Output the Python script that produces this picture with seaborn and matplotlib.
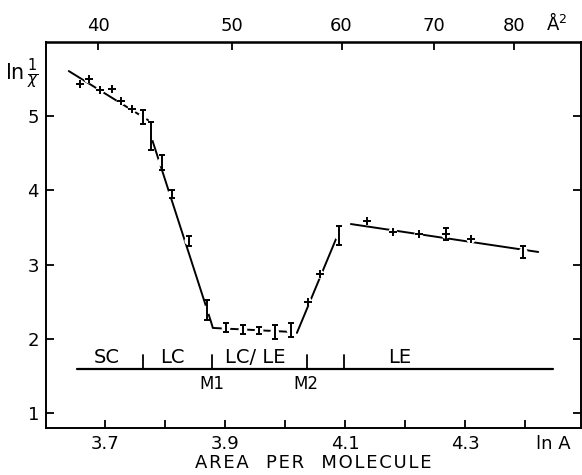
import numpy as np
import pandas as pd
import matplotlib
matplotlib.use('Agg')
import matplotlib.pyplot as plt
import matplotlib.patheffects as pe
import seaborn as sns

#%% data (x = ln A, y = ln 1/chi)
# points drawn as error bars
x_bar = [3.763, 3.777, 3.795, 3.812, 3.840, 3.870, 3.902, 3.930, 3.957, 3.983, 4.010, 4.090, 4.268, 4.397]
y_bar = [4.99, 4.73, 4.38, 3.95, 3.32, 2.39, 2.15, 2.12, 2.11, 2.09, 2.12, 3.39, 3.41, 3.17]
e_bar = [0.094, 0.19, 0.10, 0.05, 0.07, 0.13, 0.06, 0.06, 0.05, 0.09, 0.09, 0.13, 0.08, 0.08]

# points drawn as crosses
x_cross = [3.658, 3.673, 3.692, 3.712, 3.727, 3.745, 4.038, 4.058, 4.137, 4.180, 4.223, 4.268, 4.310]
y_cross = [5.43, 5.50, 5.35, 5.36, 5.20, 5.09, 2.50, 2.87, 3.59, 3.44, 3.41, 3.41, 3.34]

# fitted line segments
fit_sc_x = [3.640, 3.772]
fit_sc_y = [5.606, 4.946]
fit_lc_x = [3.778, 3.877, 3.880, 4.012]
fit_lc_y = [4.704, 2.228, 2.147, 2.093]
fit_up_x = [4.020, 4.088]
fit_up_y = [2.08, 3.40]
fit_le_x = [4.110, 4.422]
fit_le_y = [3.546, 3.170]

# phase bar
phase_y = 1.595
phase_x = [3.653, 4.447]
phase_marks = [3.763, 3.878, 4.037, 4.098]
phase_names = ['SC', 'LC', 'LC/ LE', 'LE']
phase_name_x = [3.703, 3.812, 3.950, 4.192]
m_names = ['M1', 'M2']
m_x = [3.878, 4.035]

top_ticks = [40, 50, 60, 70, 80]

#%% plot
sns.set_style('ticks')
plt.rcParams['font.family'] = ['DejaVu Sans']
plt.rcParams['text.color'] = 'black'
plt.rcParams['xtick.color'] = 'black'
plt.rcParams['ytick.color'] = 'black'
plt.rcParams['axes.edgecolor'] = 'black'
plt.rcParams['axes.labelcolor'] = 'black'

fig = plt.figure(figsize=(5.82, 4.75), dpi=100)
ax = fig.add_axes([0.079, 0.099, 0.919, 0.813])

lw = 1.4
for fx, fy in [(fit_sc_x, fit_sc_y), (fit_lc_x, fit_lc_y), (fit_up_x, fit_up_y), (fit_le_x, fit_le_y)]:
    df_fit = pd.DataFrame({'x': fx, 'y': fy})
    sns.lineplot(data=df_fit, x='x', y='y', sort=False, estimator=None, color='black', lw=lw, ax=ax, zorder=2)

# white blobs so the fit lines break around each point
df_all = pd.DataFrame({'x': x_bar + x_cross, 'y': y_bar + y_cross})
sns.scatterplot(data=df_all, x='x', y='y', marker='o', s=40, color='white', edgecolor='none', ax=ax, zorder=3)

eb = ax.errorbar(x_bar, y_bar, yerr=e_bar, fmt='none', ecolor='black', elinewidth=1.4,
                 capsize=2.3, capthick=1.4, zorder=4)
df_cross = pd.DataFrame({'x': x_cross, 'y': y_cross})
sns.scatterplot(data=df_cross, x='x', y='y', marker='+', s=32, color='black', linewidth=1.4, ax=ax, zorder=5)

# phase bar
ax.plot(phase_x, [phase_y, phase_y], color='black', lw=1.6)
for xm in phase_marks:
    ax.plot([xm, xm], [phase_y, phase_y + 0.19], color='black', lw=1.3)
for name, xn in zip(phase_names, phase_name_x):
    ax.text(xn, phase_y + 0.03, name, ha='center', va='bottom', fontsize=14)
for name, xn in zip(m_names, m_x):
    ax.text(xn, phase_y - 0.08, name, ha='center', va='top', fontsize=12)

ax.set_xlim(3.602, 4.493)
ax.set_ylim(0.8, 6.0)
ax.set_xticks([3.7, 3.8, 3.9, 4.0, 4.1, 4.2, 4.3, 4.4])
ax.set_xticklabels(['3.7', '', '3.9', '', '4.1', '', '4.3', ''])
ax.set_yticks([1, 2, 3, 4, 5])
ax.set_yticklabels(['1', '2', '3', '4', '5'])
ax.tick_params(direction='in', length=6, width=1.3, right=True, labelsize=13, pad=5)
ax.set_xlabel('\u200a'.join('AREA') + '   ' + '\u200a'.join('PER') + '   ' + '\u200a'.join('MOLECULE'),
              fontsize=13, labelpad=1)
ax.set_ylabel('')
for sp in ax.spines.values():
    sp.set_linewidth(1.4)
    sp.set_visible(True)
ax.spines['top'].set_linewidth(1.8)

ax.text(4.447, -0.018, 'ln A', transform=ax.get_xaxis_transform(), ha='center', va='top', fontsize=13)

top = ax.secondary_xaxis('top', functions=(np.exp, np.log))
top.set_xticks(top_ticks)
top.set_xticklabels([str(t) for t in top_ticks])
top.tick_params(direction='in', length=6, width=1.3, labelsize=13, pad=5)
ax.text(4.453, 1.02, 'Å$^2$', transform=ax.get_xaxis_transform(), ha='center', va='bottom', fontsize=13)

fig.text(0.008, 0.845, r'$\mathregular{ln}\,\frac{1}{\chi}$', fontsize=15, ha='left', va='center')

plt.savefig('out.png', dpi=100)
